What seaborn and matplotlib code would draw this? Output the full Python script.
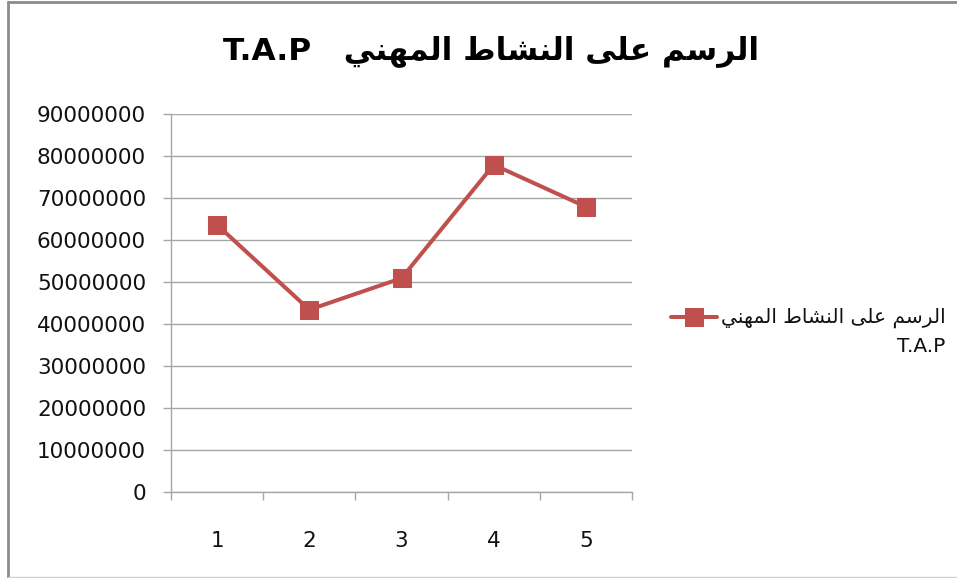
import matplotlib
matplotlib.use('Agg')
import matplotlib.pyplot as plt
import matplotlib.ticker as mticker
from matplotlib.lines import Line2D
from matplotlib.legend_handler import HandlerLine2D
import seaborn as sns
import pandas as pd
import numpy as np

# data
periods = [1, 2, 3, 4, 5]
tap_values = [63600000, 43400000, 50900000, 77900000, 67900000]
series_ar = "الرسم على النشاط المهني"
series_latin = "T.A.P"
y_ticks = list(range(0, 90000001, 10000000))

LINE_COLOR = '#C0504D'
GRID_COLOR = '#A6A6A6'

# matplotlib has no arabic shaping: map letters to presentation forms and reverse
FORMS = {
    'ا': (0xFE8D, 0xFE8E), 'ر': (0xFEAD, 0xFEAE), 'ى': (0xFEEF, 0xFEF0),
    'ل': (0xFEDD, 0xFEDE, 0xFEDF, 0xFEE0), 'س': (0xFEB1, 0xFEB2, 0xFEB3, 0xFEB4),
    'م': (0xFEE1, 0xFEE2, 0xFEE3, 0xFEE4), 'ع': (0xFEC9, 0xFECA, 0xFECB, 0xFECC),
    'ن': (0xFEE5, 0xFEE6, 0xFEE7, 0xFEE8), 'ش': (0xFEB5, 0xFEB6, 0xFEB7, 0xFEB8),
    'ط': (0xFEC1, 0xFEC2, 0xFEC3, 0xFEC4), 'ه': (0xFEE9, 0xFEEA, 0xFEEB, 0xFEEC),
    'ي': (0xFEF1, 0xFEF2, 0xFEF3, 0xFEF4),
}


def shape_ar(text):
    out = []
    for i, ch in enumerate(text):
        if ch not in FORMS:
            out.append(ch)
            continue
        prev = text[i - 1] if i > 0 else ''
        nxt = text[i + 1] if i + 1 < len(text) else ''
        join_prev = prev in FORMS and len(FORMS[prev]) == 4
        join_next = len(FORMS[ch]) == 4 and nxt in FORMS
        if join_prev and join_next:
            idx = 3
        elif join_prev:
            idx = 1
        elif join_next:
            idx = 2
        else:
            idx = 0
        out.append(chr(FORMS[ch][idx]))
    return ''.join(out)[::-1]


# legend handle sits level with the first label line, like excel does
class FirstLineHandler(HandlerLine2D):
    def create_artists(self, legend, orig_handle, xdescent, ydescent,
                       width, height, fontsize, trans):
        arts = super().create_artists(legend, orig_handle, xdescent, ydescent,
                                      width, height, fontsize, trans)
        for a in arts:
            a.set_ydata(np.asarray(a.get_ydata()) + 0.75 * fontsize)
        return arts


ar_visual = shape_ar(series_ar)

df = pd.DataFrame({'period': periods, 'value': tap_values})

sns.set_style('white')
plt.rcParams['font.family'] = ['DejaVu Sans']

fig = plt.figure(figsize=(9.57, 5.78), dpi=100)
ax = fig.add_axes([0.1787, 0.1488, 0.4817, 0.654])

sns.lineplot(data=df, x='period', y='value', ax=ax, color=LINE_COLOR,
             linewidth=2.9, marker='s', markersize=13, markeredgecolor=LINE_COLOR,
             label=ar_visual + '\n' + series_latin)

ax.set_xlim(0.5, 5.5)
ax.set_ylim(0, 90000000)
ax.set_yticks(y_ticks)
ax.yaxis.set_major_formatter(mticker.FuncFormatter(lambda v, p: f"{v:.0f}"))
ax.set_xticks(periods)
ax.set_xticks([p - 0.5 for p in periods] + [periods[-1] + 0.5], minor=True)
ax.set_xlabel('')
ax.set_ylabel('')

ax.grid(axis='y', color=GRID_COLOR, linewidth=1)
ax.set_axisbelow(True)
for side in ['top', 'right']:
    ax.spines[side].set_visible(False)
for side in ['left', 'bottom']:
    ax.spines[side].set_color(GRID_COLOR)
    ax.spines[side].set_linewidth(1)

ax.tick_params(axis='y', which='major', direction='out', length=6, width=1,
               color=GRID_COLOR, pad=12, labelsize=15.5, labelcolor='#111111', left=True)
ax.tick_params(axis='x', which='major', length=0, pad=28, labelsize=15.5,
               labelcolor='#111111')
ax.tick_params(axis='x', which='minor', direction='out', length=6, width=1,
               color=GRID_COLOR, bottom=True)

fig.suptitle(series_latin + '   ' + ar_visual, x=0.513, y=0.912,
             fontsize=22.5, fontweight='bold', va='center', color='black')

leg = ax.legend(loc='center left', bbox_to_anchor=(0.682, 0.426),
                bbox_transform=fig.transFigure, frameon=False, fontsize=14.5,
                handlelength=2.3, handletextpad=0.2,
                handler_map={Line2D: FirstLineHandler()})
for t in leg.get_texts():
    t.set_multialignment('right')
    t.set_linespacing(1.55)
    t.set_color('#111111')

# chart frame
fig.add_artist(Line2D([8 / 957, 8 / 957], [0.002, 0.996], transform=fig.transFigure,
                      color='#8C8C8C', linewidth=2))
fig.add_artist(Line2D([8 / 957, 1.0], [0.996, 0.996], transform=fig.transFigure,
                      color='#8C8C8C', linewidth=2))
fig.add_artist(Line2D([8 / 957, 1.0], [0.002, 0.002], transform=fig.transFigure,
                      color='#D0D0D0', linewidth=1))

fig.savefig('out.png', dpi=100)
